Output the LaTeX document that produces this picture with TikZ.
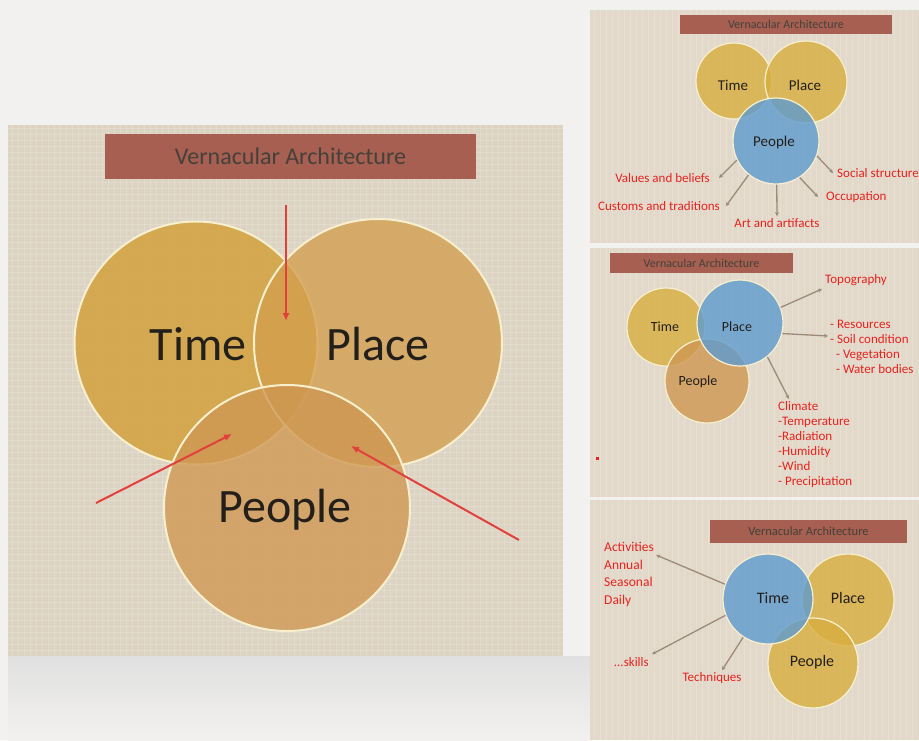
\documentclass[tikz,border=0pt]{standalone}
\usepackage{fontspec}
\setmainfont{Carlito}
\usetikzlibrary{arrows.meta}
\definecolor{vaPaper}{HTML}{F2F1EF}
\definecolor{vaCanvas}{HTML}{DDD3C3}
\definecolor{vaPanel}{HTML}{E2D9CA}
\definecolor{vaBrown}{HTML}{A65F50}
\definecolor{vaTime}{HTML}{D19C30}
\definecolor{vaPlace}{HTML}{D39E4E}
\definecolor{vaPeople}{HTML}{CF9752}
\definecolor{vaGold}{HTML}{D8AE40}
\definecolor{vaBlue}{HTML}{5E9BD0}
\definecolor{vaRim}{HTML}{F7F0CF}
\definecolor{vaRed}{HTML}{E2403C}
\definecolor{vaLabel}{HTML}{E8221E}
\definecolor{vaLead}{HTML}{9C8A7A}
\definecolor{vaInk}{HTML}{231F1A}

\begin{document}
\begin{tikzpicture}[
    x=1pt, y=-1pt,
    every node/.style={text=vaInk},
    bigset/.style={circle, draw=vaRim, line width=2pt, fill opacity=0.78,
        minimum size=#1, inner sep=0pt},
    smallset/.style={circle, draw=vaRim, line width=1.2pt, fill=vaGold,
        fill opacity=0.8, minimum size=#1, inner sep=0pt},
    focusset/.style={smallset=#1, fill=vaBlue},
    titlebar/.style={fill=vaBrown, inner sep=0pt, text=vaInk!85},
    redlabel/.style={text=vaLabel, font=\fontsize{13}{15}\selectfont,
        align=left, inner sep=2pt},
    lead/.style={draw=vaLead, line width=1.3pt, -{Stealth[length=4pt,width=4pt]}},
    redarrow/.style={draw=vaRed, line width=2pt, -{Latex[length=8pt,width=7pt]}},
]
\useasboundingbox (0,0) rectangle (919,740);

% ----------------------------------------------------------------------
% Backgrounds: paper, main canvas and the three small slides
% ----------------------------------------------------------------------
\fill[vaPaper] (0,0) rectangle (919,740);
\foreach \y in {4,10,...,122}
    \draw[black!6, line width=0.6pt] (8,\y) -- (585,\y);
\shade[top color=black!12, bottom color=vaPaper] (8,656) rectangle (590,740);
\fill[vaCanvas] (8,125) rectangle (563,656);
\foreach \x in {12,18,...,560}
    \draw[white, opacity=0.16, line width=0.5pt] (\x,125) -- (\x,656);
\foreach \y in {128,134,...,654}
    \draw[white, opacity=0.16, line width=0.5pt] (8,\y) -- (563,\y);

\foreach \top/\bot in {10/243, 248/497, 500/740} {
    \fill[vaPanel] (590,\top) rectangle (919,\bot);
    \foreach \x in {594,600,...,916}
        \draw[white, opacity=0.18, line width=0.5pt] (\x,\top) -- (\x,\bot);
}
\fill[vaLabel] (595.5,456.5) rectangle (599,460);

% ----------------------------------------------------------------------
% Main slide
% ----------------------------------------------------------------------
\node[titlebar, minimum width=371pt, minimum height=45pt,
    font=\fontsize{24}{26}\selectfont] (title) at (290.5,156.5)
    {Vernacular Architecture};

\node[bigset=243pt, fill=vaTime]   (time)   at (196,343) {};
\node[bigset=248pt, fill=vaPlace]  (place)  at (378,343) {};
\node[bigset=246pt, fill=vaPeople] (people) at (287,508) {};

\node[font=\fontsize{48}{50}\selectfont] at (198,344) {Time};
\node[font=\fontsize{48}{50}\selectfont] at (378,344) {Place};
\node[font=\fontsize{48}{50}\selectfont] at (285,510) {People};

% arrows into the overlaps
\coordinate (topTail)   at (286,205);
\coordinate (topHead)   at (286,321);
\coordinate (leftTail)  at (96,503);
\coordinate (leftHead)  at (232,434);
\coordinate (rightTail) at (519,540);
\coordinate (rightHead) at (351,446);
\draw[redarrow] (topTail) -- (topHead);
\draw[redarrow] (leftTail) -- (leftHead);
\draw[redarrow] (rightTail) -- (rightHead);

% ----------------------------------------------------------------------
% Slide 1: People
% ----------------------------------------------------------------------
\node[titlebar, minimum width=212pt, minimum height=19pt,
    font=\fontsize{12}{13}\selectfont] (title1) at (786,24.5)
    {Vernacular Architecture};
\node[smallset=76pt] (t1)  at (734,81) {};
\node[smallset=82pt] (pl1) at (806,82) {};
\node[focusset=86pt] (pp1) at (776,141) {};
\node[font=\fontsize{15}{16}\selectfont] at (733,85)  {Time};
\node[font=\fontsize{15}{16}\selectfont] at (805,85)  {Place};
\node[font=\fontsize{15}{16}\selectfont] at (774,142) {People};

\node[redlabel, anchor=east, inner xsep=9pt] (vals) at (719,178) {Values and beliefs};
\node[redlabel, anchor=east, inner xsep=6pt] (cust) at (726,206) {Customs and traditions};
\node[redlabel, anchor=north] (art)  at (777,216) {Art and artifacts};
\node[redlabel, anchor=west, inner xsep=8pt] (occ)  at (818,197) {Occupation};
\node[redlabel, anchor=west, inner xsep=4pt] (soc)  at (833,173) {Social structure};
\draw[lead] (pp1.206) -- (vals.east);
\draw[lead] (pp1.231) -- (cust.east);
\draw[lead] (pp1.271) -- (art.north);
\draw[lead] (pp1.303) -- (occ.west);
\draw[lead] (pp1.340) -- (soc.west);

% ----------------------------------------------------------------------
% Slide 2: Place
% ----------------------------------------------------------------------
\node[titlebar, minimum width=183pt, minimum height=20pt,
    font=\fontsize{12}{13}\selectfont] (title2) at (701.5,263)
    {Vernacular Architecture};
\node[smallset=78pt] (t2)  at (666,327) {};
\node[smallset=84pt, fill=vaPeople] (pp2) at (707,381) {};
\node[focusset=86pt] (pl2) at (740,323) {};
\node[font=\fontsize{14}{16}\selectfont] at (665,327) {Time};
\node[font=\fontsize{14}{16}\selectfont] at (737,327) {Place};
\node[font=\fontsize{14}{16}\selectfont] at (698,382) {People};

\node[redlabel, anchor=south west, inner sep=3pt] (topo) at (822,289) {Topography};
\node[redlabel, anchor=north west] (res) at (828,318)
    {- Resources\\- Soil condition\\\ \ - Vegetation\\\ \ - Water bodies};
\node[redlabel, anchor=north west] (clim) at (776,399)
    {Climate\\-Temperature\\-Radiation\\-Humidity\\-Wind\\- Precipitation};
\draw[lead] (pl2.21)  -- (topo.south west);
\draw[lead] (pl2.346) -- ([yshift=-18pt]res.north west);
\draw[lead] (pl2.309) -- ([xshift=13pt]clim.north west);

% ----------------------------------------------------------------------
% Slide 3: Time
% ----------------------------------------------------------------------
\node[titlebar, minimum width=197pt, minimum height=23pt,
    font=\fontsize{12.5}{13}\selectfont] (title3) at (808.5,531.5)
    {Vernacular Architecture};
\node[smallset=92pt] (pl3) at (848,600) {};
\node[smallset=90pt] (pp3) at (813,663) {};
\node[focusset=90pt] (t3)  at (768,599) {};
\node[font=\fontsize{16}{17}\selectfont] at (773,598) {Time};
\node[font=\fontsize{16}{17}\selectfont] at (848,598) {Place};
\node[font=\fontsize{16}{17}\selectfont] at (812,662) {People};

\node[redlabel, anchor=north west, font=\fontsize{13.5}{17.5}\selectfont] (act) at (602,540)
    {Activities\\Annual\\Seasonal\\Daily};
\node[redlabel, anchor=east, inner sep=3pt] (skl) at (652,662) {...skills};
\node[redlabel] (tech) at (712,678) {Techniques};
\draw[lead] (t3.161) -- ([yshift=-15pt]act.north east);
\draw[lead] (t3.201) -- (skl.north east);
\draw[lead] (t3.237) -- ([xshift=10pt]tech.north);

\end{tikzpicture}
\end{document}
